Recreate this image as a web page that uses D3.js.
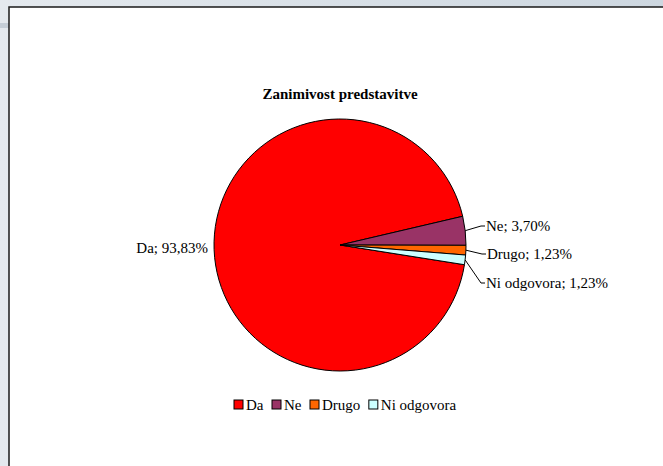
<!DOCTYPE html>
<html>
<head>
<meta charset="utf-8">
<script src="https://cdn.jsdelivr.net/npm/d3@7"></script>
<style>
    html, body { margin: 0; padding: 0; background: #d6dee6; }
    svg { display: block; }
</style>
</head>
<body>
<svg id="chart" width="663" height="466"></svg>
<script>
// chart data
const categories = ['Da', 'Ne', 'Drugo', 'Ni odgovora'];
const values = [93.83, 3.70, 1.23, 1.23];
const labels = ['Da; 93,83%', 'Ne; 3,70%', 'Drugo; 1,23%', 'Ni odgovora; 1,23%'];
const colors = ['#ff0000', '#993366', '#ff6600', '#ccffff'];
const title = 'Zanimivost predstavitve';

const FONT = "'Liberation Serif', 'Times New Roman', 'DejaVu Serif', serif";
const svg = d3.select('#chart');
const W = 663, H = 466;

// window-ish background + sheet frame
const bg = svg.append('defs').append('linearGradient').attr('id', 'bgGrad')
    .attr('x1', 0).attr('x2', 1).attr('y1', 0).attr('y2', 0);
bg.append('stop').attr('offset', 0).attr('stop-color', '#e4e9ee');
bg.append('stop').attr('offset', 1).attr('stop-color', '#cdd7e0');
svg.append('rect').attr('width', W).attr('height', H).attr('fill', 'url(#bgGrad)');
svg.append('rect').attr('x', 0).attr('y', 23).attr('width', 9).attr('height', 5).attr('fill', '#c5ced7');
svg.append('rect').attr('x', 9).attr('y', 7).attr('width', W).attr('height', H)
    .attr('fill', '#fff').attr('stroke', '#1a1a1a').attr('stroke-width', 1.5);

const cx = 340, cy = 245, r = 126;
// Excel "angle of first slice"
const firstAngle = 99 * Math.PI / 180;

svg.append('text').attr('x', cx).attr('y', 99).attr('text-anchor', 'middle')
    .attr('font-family', FONT).attr('font-weight', 'bold').attr('font-size', 15)
    .text(title);

const pie = d3.pie().sort(null).value(d => d)
    .startAngle(firstAngle).endAngle(firstAngle + 2 * Math.PI);
const arcs = pie(values);
const arc = d3.arc().innerRadius(0).outerRadius(r);

const g = svg.append('g').attr('transform', `translate(${cx},${cy})`);
g.selectAll('path').data(arcs).join('path')
    .attr('d', arc)
    .attr('fill', (d, i) => colors[i])
    .attr('stroke', '#000').attr('stroke-width', 1);

// label positions (relative to centre) for each slice
const labelPos = [
    { x: -132, y: 8, anchor: 'end' },
    { x: 146, y: -14, anchor: 'start' },
    { x: 147, y: 14, anchor: 'start' },
    { x: 146, y: 43, anchor: 'start' }
];
const polar = (a, rad) => [Math.sin(a) * rad, -Math.cos(a) * rad];

arcs.forEach((d, i) => {
    const p = labelPos[i];
    const mid = (d.startAngle + d.endAngle) / 2;
    if (i > 0) {
        const [x0, y0] = polar(mid, r);
        const ly = p.y - 5;
        g.append('polyline')
            .attr('points', [[x0, y0], [p.x - 5, ly], [p.x - 1, ly]].map(q => q.join(',')).join(' '))
            .attr('fill', 'none').attr('stroke', '#000').attr('stroke-width', 1);
    }
    g.append('text').attr('x', p.x).attr('y', p.y)
        .attr('text-anchor', p.anchor)
        .attr('font-family', FONT).attr('font-size', 15)
        .text(labels[i]);
});

// legend
const legendY = 405;
const legend = svg.append('g');
let lx = 234;
categories.forEach((c, i) => {
    legend.append('rect').attr('x', lx).attr('y', legendY - 5).attr('width', 9).attr('height', 9)
        .attr('fill', colors[i]).attr('stroke', '#000').attr('stroke-width', 1);
    const t = legend.append('text').attr('x', lx + 12).attr('y', legendY + 5)
        .attr('font-family', FONT).attr('font-size', 15).text(c);
    lx += 12 + t.node().getComputedTextLength() + 8.5;
});
</script>
</body>
</html>
